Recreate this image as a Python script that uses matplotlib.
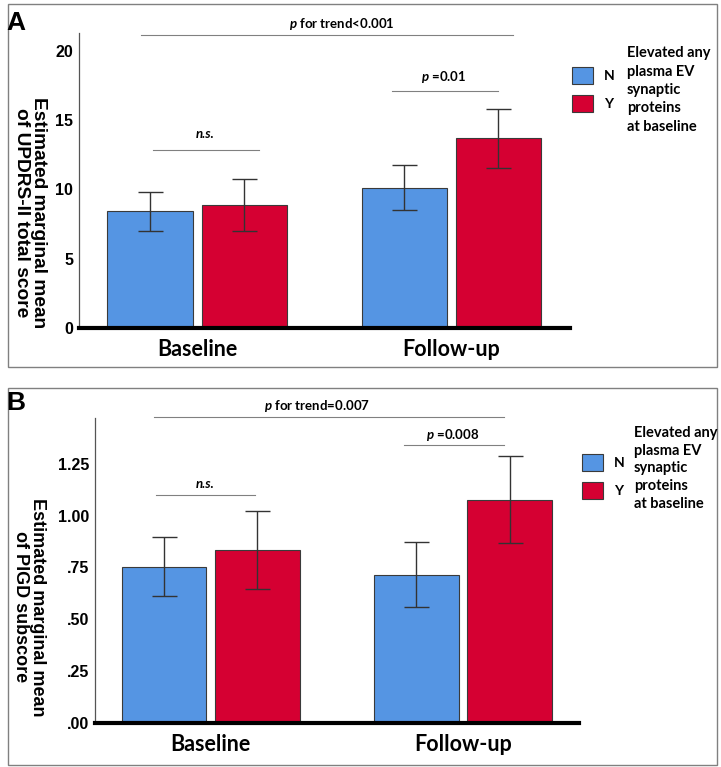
import matplotlib
matplotlib.use("Agg")
import matplotlib.pyplot as plt
from matplotlib.patches import Rectangle, Patch
import numpy as np

plt.rcParams['font.family'] = ['Lato', 'DejaVu Sans']
plt.rcParams['mathtext.fontset'] = 'custom'
plt.rcParams['mathtext.it'] = 'Lato:italic:bold'
plt.rcParams['mathtext.rm'] = 'Lato:bold'

categories = ["Baseline", "Follow-up"]
groups = ["N", "Y"]
legend_title = "Elevated any\nplasma EV\nsynaptic\nproteins\nat baseline"

# Panel A: UPDRS-II total score
a_mean_N = [8.43, 10.14]
a_mean_Y = [8.87, 13.73]
a_low_N = [7.01, 8.55]
a_high_N = [9.81, 11.76]
a_low_Y = [7.01, 11.57]
a_high_Y = [10.75, 15.83]
a_ticks = [0, 5, 10, 15, 20]
a_ticklabels = ["0", "5", "10", "15", "20"]
a_ylabel = "Estimated marginal mean\nof UPDRS-II total score"

# Panel B: PIGD subscore
b_mean_N = [0.753, 0.713]
b_mean_Y = [0.834, 1.076]
b_low_N = [0.611, 0.556]
b_high_N = [0.897, 0.871]
b_low_Y = [0.644, 0.866]
b_high_Y = [1.024, 1.285]
b_ticks = [0.0, 0.25, 0.5, 0.75, 1.0, 1.25]
b_ticklabels = [".00", ".25", ".50", ".75", "1.00", "1.25"]
b_ylabel = "Estimated marginal mean\nof PIGD subscore"

BLUE = '#5595e3'
RED = '#d50032'
W = 721
H = 767
ARIAL = ['Liberation Sans', 'DejaVu Sans']

fig = plt.figure(figsize=(7.21, 7.67), dpi=100)


def px(x, y):
    return x / W, 1 - y / H


def panel(rect, means_N, means_Y, lowN, highN, lowY, highY, ticks, ticklabels,
          ylim, xlim, annots, ylabel, ylabel_xy, ylabel_fs, letter, letter_xy, leg_xy,
          title_xy, title_ls, border):
    ax = fig.add_axes(rect)
    x = np.arange(len(categories))
    w = 0.335
    off = 0.185
    mN = np.array(means_N)
    mY = np.array(means_Y)
    ax.bar(x - off, mN, w, color=BLUE, edgecolor='#3a3a3a', linewidth=0.8, zorder=2, label=groups[0])
    ax.bar(x + off, mY, w, color=RED, edgecolor='#3a3a3a', linewidth=0.8, zorder=2, label=groups[1])
    ax.errorbar(x - off, mN, yerr=[mN - np.array(lowN), np.array(highN) - mN], fmt='none',
                ecolor='#333333', elinewidth=1.0, capsize=9, capthick=1.0, zorder=3)
    ax.errorbar(x + off, mY, yerr=[mY - np.array(lowY), np.array(highY) - mY], fmt='none',
                ecolor='#333333', elinewidth=1.0, capsize=9, capthick=1.0, zorder=3)
    ax.set_xlim(*xlim)
    ax.set_ylim(*ylim)
    ax.set_xticks(x)
    ax.set_xticklabels(categories, fontsize=15.5, fontweight='bold')
    ax.set_yticks(ticks)
    ax.set_yticklabels(ticklabels, fontsize=11.5, fontweight='bold', family=ARIAL)
    ax.tick_params(axis='both', length=0)
    ax.tick_params(axis='x', pad=8)
    ax.tick_params(axis='y', pad=4)
    for s in ['top', 'right']:
        ax.spines[s].set_visible(False)
    ax.spines['left'].set_color('#555555')
    ax.spines['left'].set_linewidth(0.9)
    ax.spines['bottom'].set_color('black')
    ax.spines['bottom'].set_linewidth(3)
    ax.spines['bottom'].set_zorder(4)
    for (x0, x1, yl, txt, tx, ty, ital) in annots:
        ax.plot([x0, x1], [yl, yl], color='#808080', lw=0.8, clip_on=False)
        ax.text(tx, ty, txt, ha='center', va='center', fontsize=9.5, fontweight='bold',
                fontstyle='italic' if ital else 'normal', clip_on=False)
    fig.text(*px(*ylabel_xy), ylabel, rotation=270, ha='center', va='center',
             fontsize=ylabel_fs, fontweight='bold', linespacing=1.0, family=ARIAL)
    fig.text(*px(*letter_xy), letter, ha='center', va='center', fontsize=19, fontweight='bold',
             family=ARIAL)
    handles = [Patch(facecolor=BLUE, edgecolor='#3a3a3a', linewidth=0.8),
               Patch(facecolor=RED, edgecolor='#3a3a3a', linewidth=0.8)]
    ax.legend(handles, groups, loc='upper left', bbox_to_anchor=px(*leg_xy),
              bbox_transform=fig.transFigure, frameon=False, borderpad=0,
              borderaxespad=0, handlelength=1.5, handleheight=1.5,
              labelspacing=0.8, handletextpad=0.8,
              prop={'weight': 'bold', 'size': 10})
    fig.text(*px(*title_xy), legend_title, ha='left', va='center', fontsize=10.5,
             fontweight='bold', linespacing=title_ls)
    bx0, by0, bx1, by1 = border
    fig.patches.append(Rectangle(px(bx0, by1), (bx1 - bx0) / W, (by1 - by0) / H,
                                 transform=fig.transFigure, fill=False,
                                 edgecolor='#808080', linewidth=1.0))
    return ax


panel([0.109, 0.5727, 0.681, 0.3838], a_mean_N, a_mean_Y, a_low_N, a_high_N,
      a_low_Y, a_high_Y, a_ticks, a_ticklabels, (0, 21.29), (-0.466, 1.465),
      [(-0.221, 1.243, 21.18, r"$\it{p}$ for trend<0.001", 0.57, 21.95, False),
       (-0.175, 0.243, 12.89, "n.s.", 0.033, 14.0, True),
       (0.766, 1.185, 17.1, r"$\it{p}$ =0.01", 0.97, 18.1, False)],
      a_ylabel, (29.5, 213), 13.8, "A", (16, 23), (572, 66.7), (627, 90), 1.4,
      (8, 4, 717, 367))

panel([0.1314, 0.0578, 0.672, 0.397], b_mean_N, b_mean_Y, b_low_N, b_high_N,
      b_low_Y, b_high_Y, b_ticks, b_ticklabels, (0, 1.47), (-0.459, 1.461),
      [(-0.224, 1.162, 1.477, r"$\it{p}$ for trend=0.007", 0.42, 1.529, False),
       (-0.215, 0.178, 1.097, "n.s.", -0.02, 1.15, True),
       (0.765, 1.162, 1.342, r"$\it{p}$ =0.008", 0.96, 1.387, False)],
      b_ylabel, (28.5, 607), 13.0, "B", (16, 403), (582, 453.7), (634, 468.3), 1.33,
      (8, 388, 717, 765))

fig.savefig("out.png", dpi=100)
